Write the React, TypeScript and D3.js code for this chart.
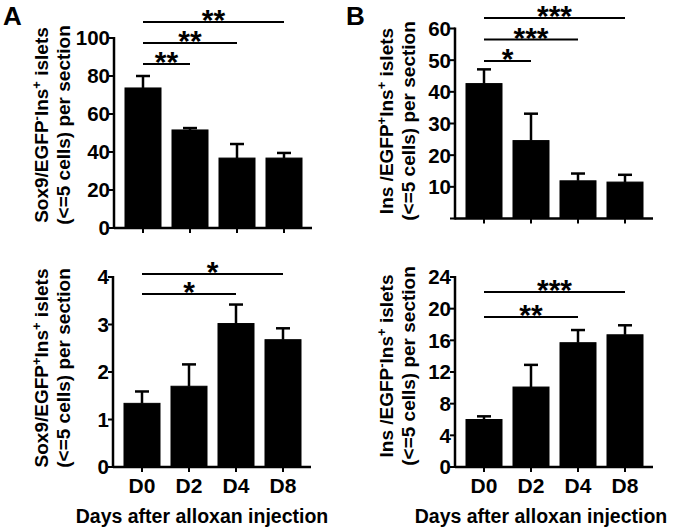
import * as d3 from 'd3'

// Days after alloxan injection
const days = ['D0', 'D2', 'D4', 'D8']

// A top: Sox9/EGFP- Ins+ islets (<=5 cells) per section
const sox9NegMean = [73.7, 51.6, 36.8, 36.8]
const sox9NegErr = [6.3, 1.0, 7.4, 2.7]
const sox9NegTicks = [0, 20, 40, 60, 80, 100]
const sox9NegSig = [
  { from: 'D0', to: 'D8', label: '**' },
  { from: 'D0', to: 'D4', label: '**' },
  { from: 'D0', to: 'D2', label: '**' },
]

// A bottom: Sox9/EGFP+ Ins+ islets
const sox9PosMean = [1.34, 1.7, 3.02, 2.68]
const sox9PosErr = [0.25, 0.46, 0.4, 0.24]
const sox9PosTicks = [0, 1, 2, 3, 4]
const sox9PosSig = [
  { from: 'D0', to: 'D8', label: '*' },
  { from: 'D0', to: 'D4', label: '*' },
]

// B top: Ins /EGFP+ Ins+ islets
const insPosMean = [42.6, 24.6, 11.9, 11.5]
const insPosErr = [4.5, 8.5, 2.3, 2.3]
const insPosTicks = [0, 10, 20, 30, 40, 50, 60]
const insPosSig = [
  { from: 'D0', to: 'D8', label: '***' },
  { from: 'D0', to: 'D4', label: '***' },
  { from: 'D0', to: 'D2', label: '*' },
]

// B bottom: Ins /EGFP- Ins+ islets
const insNegMean = [6.0, 10.1, 15.7, 16.7]
const insNegErr = [0.4, 2.8, 1.6, 1.2]
const insNegTicks = [0, 4, 8, 12, 16, 20, 24]
const insNegSig = [
  { from: 'D0', to: 'D8', label: '***' },
  { from: 'D0', to: 'D4', label: '**' },
]

const xTitle = 'Days after alloxan injection'
const font = '"Liberation Sans", Arial, sans-serif'
const plotH = 190

type Seg = { t: string; sup?: boolean }

const YLabel = ({ x, cy, lines }: { x: number; cy: number; lines: Seg[][] }) => (
  <g>
    {lines.map((segs, li) => (
      <text
        key={li}
        transform={`translate(${x + li * 22},${cy}) rotate(-90)`}
        textAnchor="middle"
        fontSize={19}
        fontWeight="bold"
      >
        {segs.map((s, i) =>
          s.sup ? (
            <tspan key={i} dy={-7} fontSize={13}>
              {s.t}
            </tspan>
          ) : (
            <tspan key={i} dy={i > 0 && segs[i - 1].sup ? 7 : 0}>
              {s.t}
            </tspan>
          )
        )}
      </text>
    ))}
  </g>
)

type PanelProps = {
  axisX: number
  y0: number
  ticks: number[]
  hideZero?: boolean
  mean: number[]
  err: number[]
  sig: { from: string; to: string; label: string }[]
  sigTop: number
  sigGap: number
  label: Seg[][]
  labelX: number
  labelCy: number
  showX?: boolean
  titleX?: number
}

const Panel = (p: PanelProps) => {
  const yMax = d3.max(p.ticks) as number
  const y = d3.scaleLinear().domain([0, yMax]).range([p.y0, p.y0 - plotH])
  const x = d3
    .scaleBand()
    .domain(days)
    .range([p.axisX + 5.5, p.axisX + 193.5])
    .paddingInner(0.234)
    .paddingOuter(0.117)
  const cx = (d: string) => (x(d) as number) + x.bandwidth() / 2

  return (
    <g>
      {/* bars + error bars */}
      {days.map((d, i) => {
        const top = y(p.mean[i])
        const eTop = y(p.mean[i] + p.err[i])
        return (
          <g key={d}>
            <rect
              x={x(d)}
              y={top}
              width={x.bandwidth()}
              height={p.y0 - top}
              fill="black"
              stroke="black"
              strokeWidth={1}
            />
            <line x1={cx(d)} x2={cx(d)} y1={top} y2={eTop} stroke="black" strokeWidth={2.5} />
            <line x1={cx(d) - 7} x2={cx(d) + 7} y1={eTop} y2={eTop} stroke="black" strokeWidth={2.5} />
          </g>
        )
      })}

      {/* y axis */}
      <line x1={p.axisX} x2={p.axisX} y1={y(yMax) - 1} y2={p.y0 + 1} stroke="black" strokeWidth={2.5} />
      {p.ticks.map(t => (
        <g key={t} transform={`translate(0,${y(t)})`}>
          <line x1={p.axisX - 5} x2={p.axisX} stroke="black" strokeWidth={2} />
          {!(p.hideZero && t === 0) && (
            <text x={p.axisX - 4} dy="0.36em" textAnchor="end" fontSize={20.5} fontWeight="bold">
              {t}
            </text>
          )}
        </g>
      ))}

      {/* x axis */}
      <line x1={p.axisX} x2={p.axisX + 198} y1={p.y0} y2={p.y0} stroke="black" strokeWidth={2.5} />
      {days.map(d => (
        <g key={d}>
          <line x1={cx(d)} x2={cx(d)} y1={p.y0} y2={p.y0 + 5} stroke="black" strokeWidth={2} />
          {p.showX && (
            <text x={cx(d)} y={p.y0 + 26} textAnchor="middle" fontSize={21} fontWeight="bold">
              {d}
            </text>
          )}
        </g>
      ))}
      {p.showX && (
        <text x={p.titleX} y={p.y0 + 56} textAnchor="middle" fontSize={19.5} fontWeight="bold">
          {xTitle}
        </text>
      )}

      {/* significance brackets */}
      {p.sig.map((s, i) => {
        const ly = p.sigTop + i * p.sigGap
        const x1 = cx(s.from)
        const x2 = cx(s.to)
        return (
          <g key={i}>
            <line x1={x1} x2={x2} y1={ly} y2={ly} stroke="black" strokeWidth={2} />
            <text x={(x1 + x2) / 2} y={ly + 8} textAnchor="middle" fontSize={30} fontWeight="bold">
              {s.label}
            </text>
          </g>
        )
      })}

      <YLabel x={p.labelX} cy={p.labelCy} lines={p.label} />
    </g>
  )
}

export default function App() {
  return (
    <svg
      width={677}
      height={528}
      style={{ position: 'absolute', left: 0, top: 0, background: 'white' }}
      fontFamily={font}
    >
      <rect width={677} height={528} fill="white" />
      <text x={3} y={25} fontSize={26} fontWeight="bold">A</text>
      <text x={346} y={25} fontSize={26} fontWeight="bold">B</text>

      <Panel
        axisX={114}
        y0={228}
        ticks={sox9NegTicks}
        mean={sox9NegMean}
        err={sox9NegErr}
        sig={sox9NegSig}
        sigTop={22}
        sigGap={21}
        labelX={48}
        labelCy={125}
        label={[
          [{ t: 'Sox9/EGFP' }, { t: '-', sup: true }, { t: 'Ins' }, { t: '+', sup: true }, { t: ' islets' }],
          [{ t: '(<=5 cells) per section' }],
        ]}
      />
      <Panel
        axisX={113}
        y0={467}
        ticks={sox9PosTicks}
        mean={sox9PosMean}
        err={sox9PosErr}
        sig={sox9PosSig}
        sigTop={274}
        sigGap={20}
        labelX={48}
        labelCy={368}
        showX
        titleX={202}
        label={[
          [{ t: 'Sox9/EGFP' }, { t: '+', sup: true }, { t: 'Ins' }, { t: '+', sup: true }, { t: ' islets' }],
          [{ t: '(<=5 cells) per section' }],
        ]}
      />
      <Panel
        axisX={455}
        y0={218.5}
        ticks={insPosTicks}
        hideZero
        mean={insPosMean}
        err={insPosErr}
        sig={insPosSig}
        sigTop={18}
        sigGap={21.5}
        labelX={393}
        labelCy={121}
        label={[
          [{ t: 'Ins /EGFP' }, { t: '+', sup: true }, { t: 'Ins' }, { t: '+', sup: true }, { t: ' islets' }],
          [{ t: '(<=5 cells) per section' }],
        ]}
      />
      <Panel
        axisX={455}
        y0={467}
        ticks={insNegTicks}
        mean={insNegMean}
        err={insNegErr}
        sig={insNegSig}
        sigTop={292}
        sigGap={25}
        labelX={393}
        labelCy={366}
        showX
        titleX={541}
        label={[
          [{ t: 'Ins /EGFP' }, { t: '-', sup: true }, { t: 'Ins' }, { t: '+', sup: true }, { t: ' islets' }],
          [{ t: '(<=5 cells) per section' }],
        ]}
      />
    </svg>
  )
}
